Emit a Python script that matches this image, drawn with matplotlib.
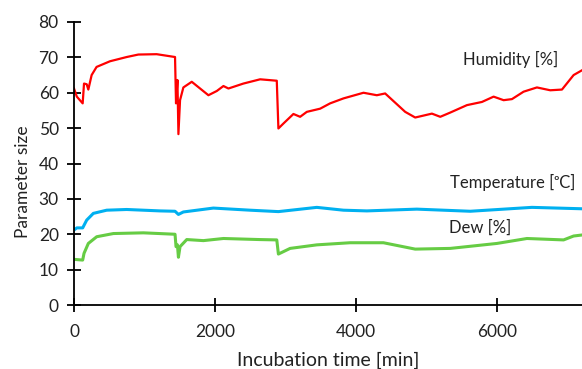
import matplotlib
matplotlib.use("Agg")
import matplotlib.pyplot as plt

plt.rcParams['font.family'] = ['Lato', 'DejaVu Sans']

hum_t = [0, 40, 123, 142, 180, 203, 250, 320, 510, 747, 912, 1172, 1432, 1446, 1466, 1480, 1503, 1550,
         1669, 1787, 1905, 2024, 2118, 2189, 2401, 2638, 2874, 2897, 2968, 3110, 3205, 3300, 3489, 3630,
         3819, 4103, 4292, 4410, 4694, 4836, 5073, 5191, 5333, 5569, 5782, 5947, 6089, 6207, 6372, 6561,
         6750, 6916, 7081, 7204]
hum_v = [61.2, 58.9, 57.0, 62.6, 62.4, 60.9, 65.0, 67.3, 68.9, 70.1, 70.8, 70.9, 70.1, 57.0, 63.6, 48.3, 57.9, 61.5,
         63.1, 61.2, 59.3, 60.5, 61.9, 61.2, 62.6, 63.8, 63.4, 49.9, 51.3, 54.0, 53.2, 54.6, 55.5, 57.0,
         58.4, 60.0, 59.3, 59.8, 54.6, 53.0, 54.1, 53.2, 54.4, 56.5, 57.4, 58.9, 57.9, 58.2, 60.3, 61.5,
         60.7, 60.9, 65.0, 66.4]

temp_t = [0, 40, 123, 180, 274, 463, 747, 1219, 1432, 1480, 1550, 1975, 2496, 2897, 3441, 3819, 4150,
          4859, 5616, 6490, 7204]
temp_v = [21.2, 21.8, 21.8, 24.0, 25.9, 26.8, 27.0, 26.6, 26.5, 25.6, 26.3, 27.4, 26.8, 26.4, 27.6, 26.8, 26.6,
          27.1, 26.5, 27.6, 27.2]

dew_t = [0, 123, 142, 203, 322, 558, 983, 1432, 1446, 1466, 1480, 1503, 1598, 1834, 2118, 2628, 2874,
         2897, 3063, 3441, 3914, 4386, 4836, 5333, 5994, 6420, 6939, 7081, 7204]
dew_v = [12.9, 12.7, 14.6, 17.4, 19.3, 20.2, 20.4, 20.0, 16.5, 17.0, 13.5, 16.5, 18.5, 18.2, 18.8, 18.5, 18.4,
         14.4, 16.0, 17.0, 17.6, 17.6, 15.8, 16.0, 17.4, 18.8, 18.4, 19.5, 19.8]

x_ticks = [0, 2000, 4000, 6000]
y_ticks = [0, 10, 20, 30, 40, 50, 60, 70, 80]

fig = plt.figure(figsize=(5.82, 3.69), dpi=100)
ax = fig.add_axes([74/582, 1-305/369, 1-74/582, (305-22)/369])

ax.plot(hum_t, hum_v, color='#FF0000', lw=1.6)
ax.plot(temp_t, temp_v, color='#00B0F0', lw=2.2)
ax.plot(dew_t, dew_v, color='#66CC44', lw=2.2)

ax.set_xlim(0, 7200)
ax.set_ylim(0, 80)
ax.set_xticks(x_ticks)
ax.set_yticks(y_ticks)
for s in ['top', 'right']:
    ax.spines[s].set_visible(False)
for s in ['left', 'bottom']:
    ax.spines[s].set_linewidth(1.3)
    ax.spines[s].set_color('black')
ax.tick_params(direction='inout', length=10, width=1.3, labelsize=12.5, colors='black')
ax.tick_params(axis='x', pad=9)
ax.tick_params(axis='y', pad=6)
for lab in ax.get_xticklabels() + ax.get_yticklabels():
    lab.set_color('#222222')

ax.set_xlabel('Incubation time [min]', fontsize=14, color='#222222', labelpad=8)
ax.set_ylabel('Parameter size', fontsize=12.5, color='#222222')
ax.yaxis.set_label_coords(-0.085, 0.435)

ax.text(6183, 69.5, 'Humidity [%]', fontsize=12, color='#222222', ha='center', va='center')
ax.text(6211, 34.5, 'Temperature [ᵒC]', fontsize=12, color='#222222', ha='center', va='center')
ax.text(5750, 21.8, 'Dew [%]', fontsize=12, color='#222222', ha='center', va='center')

fig.savefig('out.png', dpi=100)
